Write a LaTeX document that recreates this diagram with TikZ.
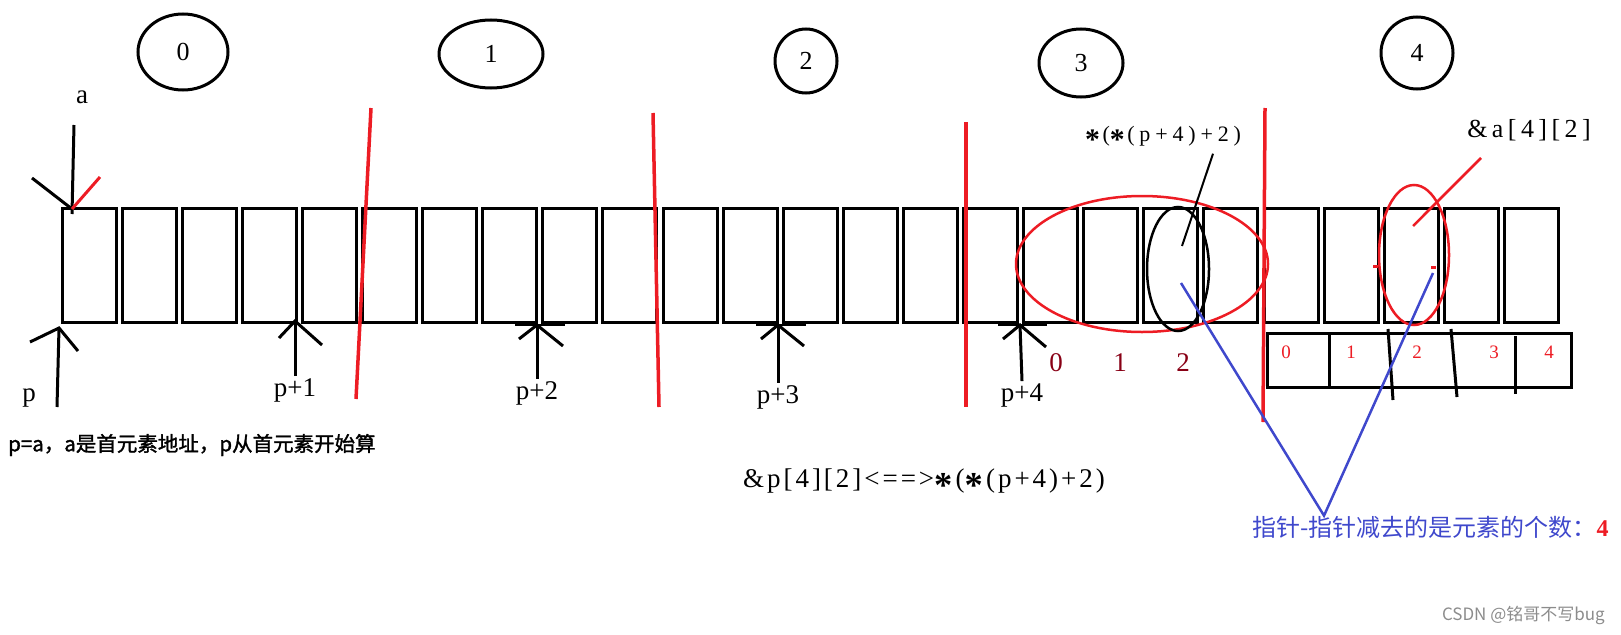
\documentclass[tikz,border=0pt]{standalone}
\usepackage{fontspec}
\setmainfont{Liberation Serif}
\newfontfamily\cjk{Noto Sans CJK SC}
\newfontfamily\cjkb[FakeBold=1.5]{Noto Sans CJK SC}
\usetikzlibrary{shapes.geometric, positioning}
\definecolor{pred}{RGB}{237,28,36}
\definecolor{pblue}{RGB}{63,72,204}
\definecolor{pmaroon}{RGB}{136,0,21}
\newcommand{\fsz}[1]{\fontsize{#1}{#1}\selectfont}
\newcommand{\pstar}{\raisebox{-0.35em}{\scalebox{1.35}{\bfseries *}}\kern0.12em}

\begin{document}
\begin{tikzpicture}[
  x=1pt, y=-1pt,
  cell/.style={draw, line width=3pt, minimum width=54pt,
               minimum height=114pt, inner sep=0pt},
  grp/.style={draw, ellipse, line width=3pt, inner sep=0pt, font=\fsz{26}},
  hl/.style={draw, ellipse, line width=2.5pt, inner sep=0pt},
  lbl/.style={inner sep=2pt, font=\fsz{27}},
  expr/.style={inner sep=0pt},
  stroke/.style={line width=3pt},
  bar/.style={line width=1.5pt},
  cut/.style={pred, line width=3.5pt},
  bline/.style={pblue, line width=2.5pt},
  node distance=3.1pt
]
  \useasboundingbox (0,0) rectangle (1621,634);

  % - Nhom (hang) 0..4 -
  \node[grp, minimum width=90pt,  minimum height=76pt] (g0) at (183,52)  {0};
  \node[grp, minimum width=104pt, minimum height=68pt] (g1) at (491,54)  {1};
  \node[grp, minimum width=62pt,  minimum height=64pt] (g2) at (806,61)  {2};
  \node[grp, minimum width=84pt,  minimum height=68pt] (g3) at (1081,63) {3};
  \node[grp, minimum width=72pt,  minimum height=72pt] (g4) at (1417,53) {4};

  % - O nho -
  \node[cell] (c1) at (89,265) {};
  \foreach \i [count=\j] in {2,...,25}
    \node[cell, right=of c\j] (c\i) {};

  % - Vach chia -
  \draw[cut] (371,108) -- (356,399);
  \draw[cut] (653,113) -- (659,407);
  \draw[cut] (966,122) -- (966,407);
  \draw[cut] (1265,108) -- (1263,422);

  % - a va p -
  \coordinate (ta) at (72,209);
  \coordinate (sa) at (74,125);
  \node[lbl] (la) at (82,97) {a};
  \draw[stroke] (sa) -- ([yshift=-5pt]ta);
  \draw[stroke] (ta) ++(-40,-31) -- (ta);
  \draw[stroke, pred] (ta) -- ++(28,-32);

  \coordinate (tp0) at (59,328);
  \coordinate (sp) at (57,407);
  \node[lbl] (lp) at (29,398) {p};
  \draw[stroke] (sp) -- (tp0);
  \draw[stroke] (tp0) ++(-29,14) -- (tp0) -- ++(19,23);

  % - p+1 .. p+4 -
  \coordinate (tp1) at (295,321);
  \node[lbl] (lp1) at (295,390) {p+1};
  \draw[stroke] (lp1.north) -- (tp1);
  \draw[stroke] (tp1) ++(-16,17) -- (tp1) -- ++(27,24);

  \coordinate (tp2) at (537,325);
  \node[lbl] (lp2) at (537,393) {p+2};
  \draw[stroke] (lp2.north) -- (tp2);
  \draw[stroke] (tp2) ++(-18,14) -- (tp2) -- ++(26,21);
  \draw[bar] (tp2) ++(-22,0) -- ++(50,0);

  \coordinate (tp3) at (778,325);
  \node[lbl] (lp3) at (778,397) {p+3};
  \draw[stroke] (lp3.north) -- (tp3);
  \draw[stroke] (tp3) ++(-17,14) -- (tp3) -- ++(26,21);
  \draw[bar] (tp3) ++(-22,0) -- ++(50,0);

  \coordinate (tp4) at (1020,325);
  \node[lbl] (lp4) at (1022,395) {p+4};
  \draw[stroke] (lp4.north) -- (tp4);
  \draw[stroke] (tp4) ++(-17,14) -- (tp4) -- ++(26,22);
  \draw[bar] (tp4) ++(-22,0) -- ++(49,0);

  % - Chi so trong hang 4 -
  \node[lbl, text=pmaroon] (k0) at (1056,363) {0};
  \node[lbl, text=pmaroon] (k1) at (1120,363) {1};
  \node[lbl, text=pmaroon] (k2) at (1183,363) {2};

  % - Bang a[4] -
  \node[draw, line width=3.5pt, minimum width=304pt, minimum height=54pt,
        inner sep=0pt] (tbl) at (1419.5,360.5) {};
  \draw[stroke] (1329,332) -- (1329,389);
  \draw[stroke] (1388,329) -- (1393,400);
  \draw[stroke] (1451,329) -- (1457,397);
  \draw[stroke] (1515,336) -- (1515,394);
  \node[font=\fsz{19}, text=pred] (t0) at (1286,352) {0};
  \node[font=\fsz{19}, text=pred] (t1) at (1351,352) {1};
  \node[font=\fsz{19}, text=pred] (t2) at (1417,352) {2};
  \node[font=\fsz{19}, text=pred] (t3) at (1494,352) {3};
  \node[font=\fsz{19}, text=pred] (t4) at (1549,352) {4};

  % - Khoanh tron -
  \node[hl, draw=pred, minimum width=252pt, minimum height=136pt] (rowsel) at (1142,264) {};
  \node[hl, minimum width=62pt, minimum height=124pt] (elsel) at (1178,269) {};
  \node[hl, draw=pred, minimum width=70pt, minimum height=140pt] (asel) at (1414,255) {};
  \fill[pred] (1373,265) rectangle (1378,268);
  \fill[pred] (1431,266) rectangle (1436,269);

  % - Chu thich -
  \node[expr, font=\fsz{22}\addfontfeatures{LetterSpace=22}] (deref) at (1163,138)
    {\pstar(\pstar(p+4)+2)};
  \node[expr, font=\fsz{26}\addfontfeatures{LetterSpace=17}] (addr) at (1529,130)
    {\&a[4][2]};
  \node[expr, font=\fsz{27}\addfontfeatures{LetterSpace=11}] (equiv) at (924,483)
    {\&p[4][2]<==>\pstar(\pstar(p+4)+2)};
  \node[expr, anchor=west, font=\cjkb\fsz{20.5}] (note) at (8,445)
    {p=a，a是首元素地址，p从首元素开始算};
  \node[expr, anchor=west, font=\cjk\fsz{24}, text=pblue] (diff) at (1252,527)
    {指针-指针减去的是元素的个数：{\rmfamily\bfseries\color{pred}4}};
  \node[expr, anchor=east, font=\cjk\fsz{17}, text=black!45] (mark) at (1605,615)
    {CSDN @铭哥不写bug};

  % - Duong noi -
  \coordinate (in1) at (1182,246);
  \coordinate (in2) at (1181,283);
  \coordinate (in3) at (1433,273);
  \coordinate (in4) at (1413,226);
  \draw[line width=2pt] ([xshift=50pt,yshift=-4pt]deref.south) -- (in1);
  \draw[pred, line width=2.5pt] ([xshift=-48pt,yshift=-17pt]addr.south) -- (in4);
  \draw[bline] (in2) -- ([xshift=72pt]diff.north west) -- (in3);
\end{tikzpicture}
\end{document}
